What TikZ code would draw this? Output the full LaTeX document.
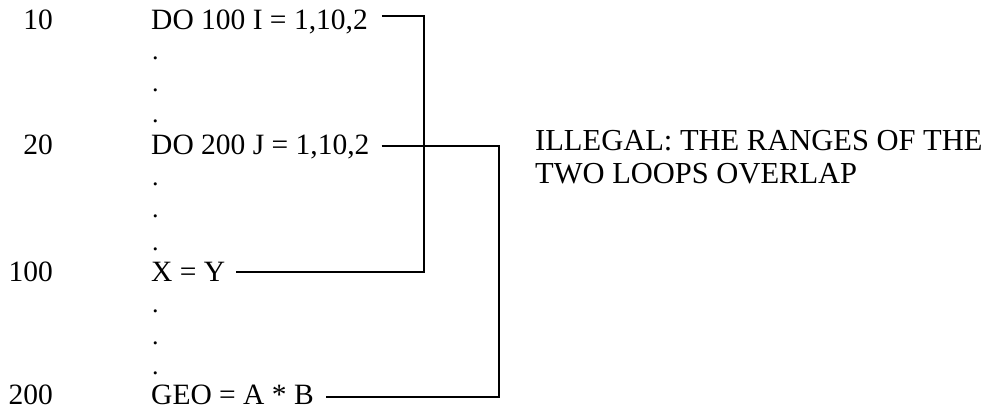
\documentclass[tikz,border=0pt]{standalone}
\usepackage{fontspec}
\setmainfont{Liberation Serif}
\begin{document}
\begin{tikzpicture}[x=1pt,y=-1pt,
  lbl/.style={anchor=base east,inner sep=0pt,font=\fontsize{29.5}{34}\selectfont},
  code/.style={anchor=base west,inner sep=0pt,font=\fontsize{29.5}{34}\selectfont},
  dot/.style={anchor=base west,inner sep=0pt,font=\fontsize{26}{30}\selectfont},
  note/.style={anchor=base west,inner sep=0pt,align=left,font=\fontsize{30.5}{33}\selectfont},
  looprange/.style={draw=black,line width=1.8pt}]
\useasboundingbox (0,0) rectangle (994,411);

% statement labels
\node[lbl] (l10)  at (53,30)  {10};
\node[lbl] (l20)  at (53,155) {20};
\node[lbl] (l100) at (53,282) {100};
\node[lbl] (l200) at (53,405) {200};

% statements
\node[code] (do1) at (151,30)  {DO 100 I = 1,10,2};
\node[code] (do2) at (151,155) {DO 200 J = 1,10,2};
\node[code] (xy)  at (151,282) {X = Y};
\node[code] (geo) at (151,405) {GEO = A * B};

% omitted statements
\foreach \n/\yy in {a/60,b/92,c/123,d/186,e/218,f/251,g/313,h/345,i/375}
  \node[dot] (p\n) at (152,\yy) {.};

% explanation (base anchor sits on the last line)
\node[note] (msg) at (535,184) {ILLEGAL: THE RANGES OF THE\\TWO LOOPS OVERLAP};

% loop ranges
\coordinate (v1) at (424,0);
\coordinate (v2) at (499,0);
\draw[looprange] ([shift={(14pt,14pt)}]do1.base east) -| ([yshift=10pt]xy.base -| v1)
  -- ([shift={(11pt,10pt)}]xy.base east);
\draw[looprange] ([shift={(12pt,9pt)}]do2.base east) -| ([yshift=8pt]geo.base -| v2)
  -- ([shift={(12pt,8pt)}]geo.base east);
\end{tikzpicture}
\end{document}
